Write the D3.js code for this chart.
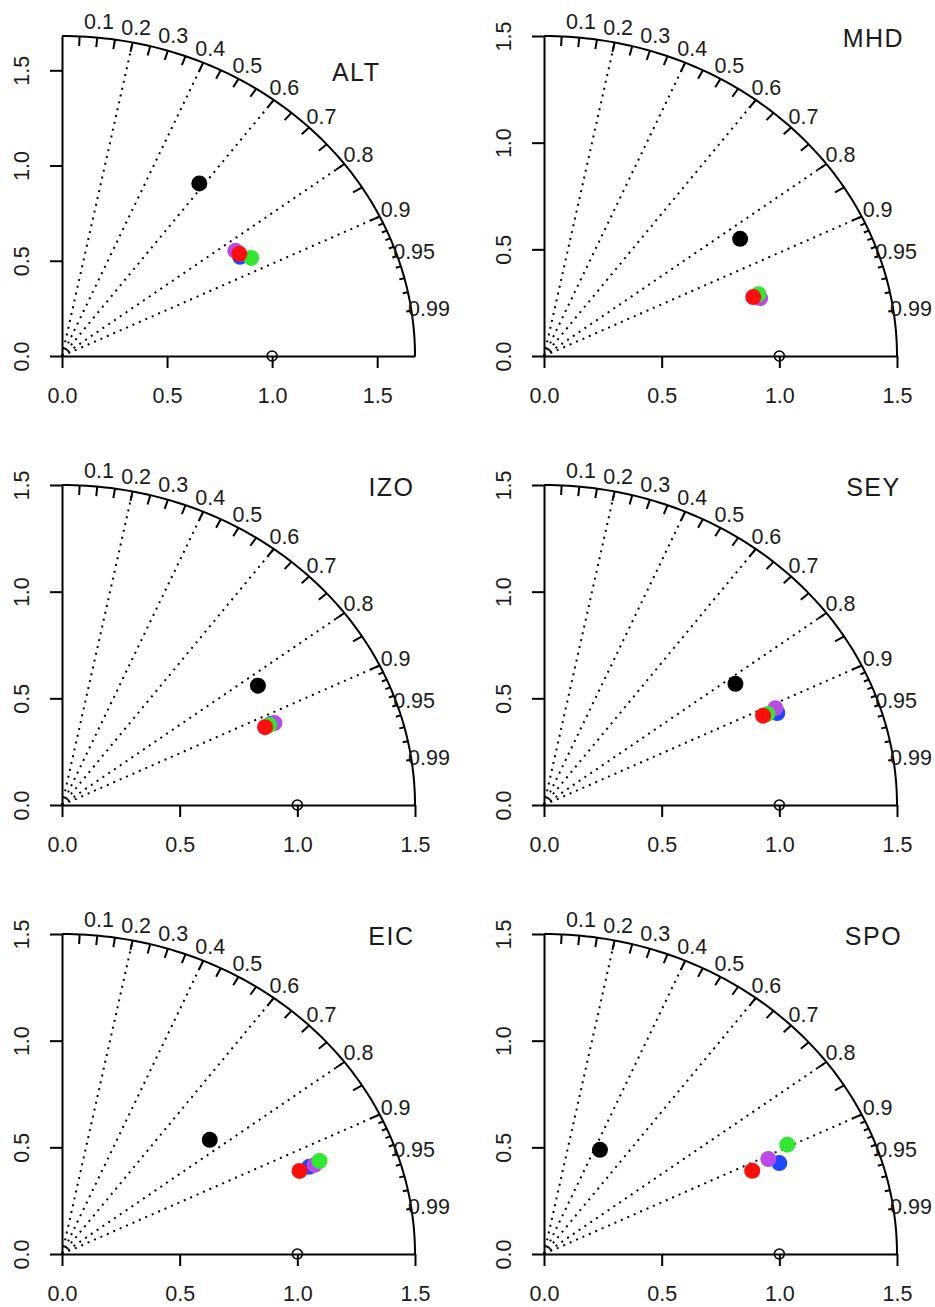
<!DOCTYPE html>
<html>
<head>
<meta charset="utf-8">
<script src="https://cdn.jsdelivr.net/npm/d3@7"></script>
<style>
  body { margin: 0; background: #fff; }
  text { font-family: "Liberation Sans", Arial, sans-serif; fill: #1a1a1a; }
  .axis path, .axis line { stroke: #000; stroke-width: 2; }
</style>
</head>
<body>
<div id="chart"></div>
<script>
// Stations, one panel each, and the radius of each diagram
const sites = ["ALT", "MHD", "IZO", "SEY", "EIC", "SPO"];
const maxSd = [1.68, 1.5, 1.5, 1.5, 1.5, 1.5];

// Normalised standard deviation and correlation, per series, per site
const sdBlack = [1.117, 0.998, 1.003, 0.992, 0.825, 0.543];
const rBlack = [0.585, 0.835, 0.830, 0.820, 0.761, 0.438];
const sdBlue = [0.995, 0.949, 0.967, 1.081, 1.127, 1.087];
const rBlue = [0.852, 0.955, 0.919, 0.917, 0.932, 0.920];
const sdPurple = [0.993, 0.958, 0.981, 1.083, 1.152, 1.052];
const rPurple = [0.831, 0.959, 0.920, 0.908, 0.932, 0.906];
const sdGreen = [1.037, 0.956, 0.957, 1.041, 1.178, 1.154];
const rGreen = [0.868, 0.953, 0.920, 0.912, 0.929, 0.896];
const sdRed = [1.000, 0.931, 0.937, 1.021, 1.082, 0.967];
const rRed = [0.844, 0.955, 0.921, 0.912, 0.933, 0.915];

// Reference point and axis / correlation ticks
const refSd = 1.0;
const axisTicks = [0, 0.5, 1.0, 1.5];
const corLabels = [0.1, 0.2, 0.3, 0.4, 0.5, 0.6, 0.7, 0.8, 0.9, 0.95, 0.99];
const corLines = [0.2, 0.4, 0.6, 0.8, 0.9];
const corMedTicks = d3.range(1, 19).map(i => i * 0.05);
const corSmallTicks = d3.range(91, 100).map(i => i / 100);

// series in drawing order
const series = [
  { sd: sdBlack, r: rBlack, color: "#000000" },
  { sd: sdBlue, r: rBlue, color: "#1f47ff" },
  { sd: sdPurple, r: rPurple, color: "#b94ae8" },
  { sd: sdGreen, r: rGreen, color: "#2fe82f" },
  { sd: sdRed, r: rRed, color: "#ff0d0d" }
];

const width = 935, height = 1307;
const colX = [62, 544], rowY = [356, 805, 1254];
const plotW = 353, plotH = 320;
const fontSize = "21.5px";

const svg = d3.select("#chart").append("svg")
  .attr("width", width).attr("height", height);
svg.append("rect").attr("width", width).attr("height", height).attr("fill", "#fff");

sites.forEach((site, i) => {
  const m = maxSd[i];
  const x0 = colX[i % 2], y0 = rowY[Math.floor(i / 2)];
  const x = d3.scaleLinear().domain([0, m]).range([x0, x0 + plotW]);
  const y = d3.scaleLinear().domain([0, m]).range([y0, y0 - plotH]);
  const g = svg.append("g");

  // polar helper: (radius, correlation) -> pixel
  const px = (rad, c) => x(rad * c);
  const py = (rad, c) => y(rad * Math.sqrt(1 - c * c));

  // correlation rays
  corLines.forEach(c => {
    g.append("line")
      .attr("x1", x(0)).attr("y1", y(0))
      .attr("x2", px(m, c)).attr("y2", py(m, c))
      .attr("stroke", "#000").attr("stroke-width", 2)
      .attr("stroke-dasharray", "2 5");
  });

  // axes
  const xAxis = d3.axisBottom(x).tickValues(axisTicks.filter(t => t <= m))
    .tickFormat(d3.format(".1f")).tickSize(12).tickSizeOuter(0).tickPadding(20);
  const yAxis = d3.axisLeft(y).tickValues(axisTicks.filter(t => t <= m))
    .tickFormat(d3.format(".1f")).tickSize(12).tickSizeOuter(0);
  const gx = g.append("g").attr("class", "axis")
    .attr("transform", `translate(0,${y0})`).call(xAxis);
  const gy = g.append("g").attr("class", "axis")
    .attr("transform", `translate(${x0},0)`).call(yAxis);
  gx.selectAll("text").style("font-size", fontSize).attr("fill", "#1a1a1a");
  gy.selectAll("text")
    .style("font-size", fontSize).attr("fill", "#1a1a1a")
    .attr("x", 0).attr("dy", 0)
    .attr("text-anchor", "middle")
    .attr("transform", "translate(-33,0) rotate(-90)");

  // outer arc
  const angles = d3.range(0, 91).map(a => a * Math.PI / 180);
  const arc = d3.line().x(a => x(m * Math.cos(a))).y(a => y(m * Math.sin(a)));
  g.append("path").datum(angles).attr("d", arc)
    .attr("fill", "none").attr("stroke", "#000").attr("stroke-width", 2);

  // ticks on arc
  const arcTick = (c, frac) => {
    g.append("line")
      .attr("x1", px(m, c)).attr("y1", py(m, c))
      .attr("x2", px(m * frac, c)).attr("y2", py(m * frac, c))
      .attr("stroke", "#000").attr("stroke-width", 2);
  };
  corMedTicks.forEach(c => arcTick(c, 0.97));
  corSmallTicks.forEach(c => arcTick(c, 0.985));

  // correlation labels
  corLabels.forEach(c => {
    g.append("text")
      .attr("x", px(m * 1.05, c)).attr("y", py(m * 1.05, c))
      .attr("dy", "0.36em").attr("text-anchor", "middle")
      .style("font-size", fontSize)
      .text(c);
  });

  // reference point
  g.append("circle")
    .attr("cx", x(refSd)).attr("cy", y(0)).attr("r", 5)
    .attr("fill", "none").attr("stroke", "#000").attr("stroke-width", 1.6);

  // model points
  series.forEach(s => {
    g.append("circle")
      .attr("cx", px(s.sd[i], s.r[i])).attr("cy", py(s.sd[i], s.r[i]))
      .attr("r", 8).attr("fill", s.color);
  });

  // station label, placed in data units like the original plot
  g.append("text")
    .attr("x", x(1.4))
    .attr("y", y(1.49))
    .attr("dy", "0.36em").attr("text-anchor", "middle")
    .style("font-size", "25px").style("letter-spacing", "1.5px")
    .text(site);
});
</script>
</body>
</html>
